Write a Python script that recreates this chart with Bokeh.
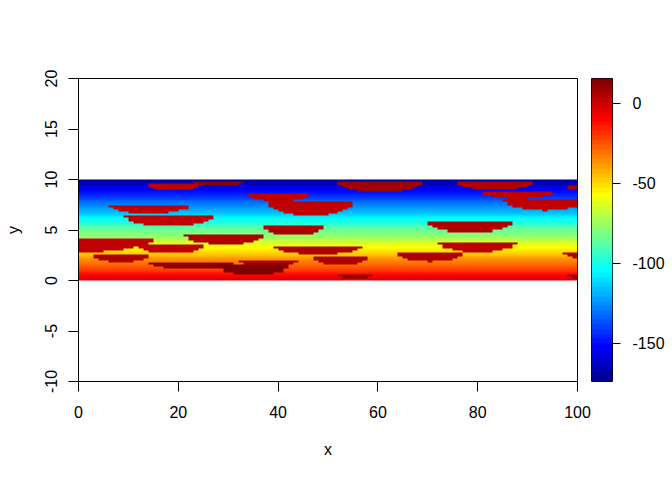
import numpy as np
from bokeh.plotting import figure
from bokeh.models import LinearColorMapper, FixedTicker, Range1d
from bokeh.layouts import row
from bokeh.embed import file_html
from bokeh.resources import INLINE

# ---- data ----
# colour scale limits
z_limits = [-174.0, 15.6]
# field extent
field_x = [0, 100]
field_y = [0, 10]
# background value of each row of the field (50 rows, bottom to top)
row_values = [-5, -8, -11, -14, -17, -20, -24, -27, -30, -34,
              -37, -40, -44, -47, -50, -54, -57, -61, -64, -67,
              -71, -74, -78, -81, -84, -88, -91, -95, -98, -101,
              -105, -108, -112, -115, -118, -122, -125, -129, -132, -135,
              -139, -142, -146, -149, -152, -156, -159, -163, -166, -169]
# half-elliptical patches (flat top, curved bottom)
blob_x = [-1, 18.6, 8.5, 19.2, 28.1, 14.1, 18.2, 29.1, 22.6, 38, 35,
          40, 46.5, 43, 48, 52.5, 55.5, 60.5, 83.5, 78.5, 80, 70.5,
          88, 93.5, 102, 102, 102]
blob_top = [4.2, 3.6, 2.5, 9.5, 9.83, 7.4, 6.4, 4.57, 1.9, 2.0, 1.5,
            8.5, 7.7, 5.33, 3.4, 2.33, 0.5, 9.83, 9.73, 5.8, 3.9, 2.73,
            8.73, 7.9, 9.3, 2.8, 0.5]
blob_halfwidth = [16, 6.6, 5.4, 5, 4.9, 8.1, 9, 7.9, 8.4, 6, 7,
                  6, 8.5, 6, 9.1, 5.5, 3.5, 8.5, 7.5, 8.5, 8, 6.5,
                  7, 8, 4, 5, 4]
blob_depth = [1.4, 0.9, 0.7, 0.6, 0.5, 0.8, 1.07, 0.97, 0.8, 0.67, 1.0,
              0.7, 1.3, 0.83, 0.8, 0.77, 0.25, 1.1, 0.83, 1.07, 1.07, 0.83,
              0.67, 1.0, 0.5, 0.6, 0.3]
blob_value = [2, 2, 6, 2, 11, 2, 2, 6, 11, 6, 13,
              2, 2, 4, 6, 6, 11, 8, 6, 6, 2, 6,
              2, 2, 6, 6, 11]
x_ticks = [0, 20, 40, 60, 80, 100]
y_ticks = [-10, -5, 0, 5, 10, 15, 20]
cb_ticks = [0, -50, -100, -150]

# ---- palette (64-step jet, like tim.colors) ----
def jet64():
    cols = []
    for i in range(1, 65):
        if i <= 8:
            r, g, b = 0, 0, 0.5 + 0.0625 * i
        elif i <= 24:
            r, g, b = 0, 0.0625 * (i - 8), 1
        elif i <= 40:
            r, g, b = 0.0625 * (i - 24), 1, 1 - 0.0625 * (i - 24)
        elif i <= 56:
            r, g, b = 1, 1 - 0.0625 * (i - 40), 0
        else:
            r, g, b = 1 - 0.0625 * (i - 56), 0, 0
        cols.append("#%02x%02x%02x" % tuple(int(round(min(1, max(0, c)) * 255)) for c in (r, g, b)))
    return cols

palette = jet64()
mapper = LinearColorMapper(palette=palette, low=z_limits[0], high=z_limits[1])

# ---- build field grid ----
nrows = len(row_values)
ncols = field_x[1] - field_x[0]
dy = (field_y[1] - field_y[0]) / nrows
xc = field_x[0] + np.arange(ncols) + 0.5
yc = field_y[0] + (np.arange(nrows) + 0.5) * dy
Z = np.repeat(np.array(row_values, dtype=float)[:, None], ncols, axis=1)
for cx, top, hw, d, v in zip(blob_x, blob_top, blob_halfwidth, blob_depth, blob_value):
    inside = (yc[:, None] <= top) & ((((xc[None, :] - cx) / hw) ** 2 + ((top - yc[:, None]) / d) ** 2) <= 1)
    Z = np.where(inside, np.maximum(Z, v), Z)

FONT = "Liberation Sans"
FS = "16px"

def hyphen(ticks):
    return {t: str(t) for t in ticks}

p = figure(frame_width=499, frame_height=303, min_border_left=78, min_border_top=78,
           min_border_right=14, min_border_bottom=83,
           x_range=Range1d(field_x[0], field_x[1]), y_range=Range1d(-10, 20),
           toolbar_location=None, output_backend="svg")
p.image(image=[Z], x=field_x[0], y=field_y[0], dw=field_x[1] - field_x[0],
        dh=field_y[1] - field_y[0], color_mapper=mapper)
p.grid.visible = False
p.outline_line_color = "black"
p.outline_line_width = 1
p.background_fill_color = "white"
p.xaxis.ticker = FixedTicker(ticks=x_ticks)
p.yaxis.ticker = FixedTicker(ticks=y_ticks)
p.xaxis.major_label_overrides = hyphen(x_ticks)
p.yaxis.major_label_overrides = hyphen(y_ticks)
p.xaxis.axis_label = "x"
p.yaxis.axis_label = "y"
p.yaxis.major_label_orientation = "vertical"
for ax in p.axis:
    ax.major_tick_out = 10
    ax.major_tick_in = 0
    ax.minor_tick_line_color = None
    ax.axis_line_color = "black"
    ax.major_tick_line_color = "black"
    ax.major_label_text_font = FONT
    ax.major_label_text_font_size = FS
    ax.major_label_text_color = "black"
    ax.axis_label_text_font = FONT
    ax.axis_label_text_font_size = FS
    ax.axis_label_text_font_style = "normal"
    ax.axis_label_text_color = "black"
p.xaxis.major_label_standoff = 14
p.xaxis.axis_label_standoff = 20
p.yaxis.major_label_standoff = 12
p.yaxis.axis_label_standoff = 20

# ---- colour bar ----
step = (z_limits[1] - z_limits[0]) / len(palette)
cb_vals = (z_limits[0] + (np.arange(len(palette)) + 0.5) * step)[:, None]
p2 = figure(frame_width=21, frame_height=303, min_border_left=0, min_border_top=78,
            min_border_right=49, min_border_bottom=83,
            x_range=Range1d(0, 1), y_range=Range1d(z_limits[0], z_limits[1]),
            x_axis_location=None, y_axis_location="right",
            toolbar_location=None, output_backend="svg")
p2.image(image=[cb_vals], x=0, y=z_limits[0], dw=1, dh=z_limits[1] - z_limits[0],
         color_mapper=mapper)
p2.grid.visible = False
p2.outline_line_color = "black"
p2.yaxis.ticker = FixedTicker(ticks=cb_ticks)
p2.yaxis.major_label_overrides = hyphen(cb_ticks)
ax = p2.yaxis[0]
ax.major_tick_out = 8
ax.major_tick_in = 0
ax.minor_tick_line_color = None
ax.axis_line_color = None
ax.major_tick_line_color = "black"
ax.major_label_text_font = FONT
ax.major_label_text_font_size = FS
ax.major_label_text_color = "black"
ax.major_label_standoff = 12

layout = row(p, p2)
open("out.html", "w").write(file_html(layout, INLINE))
